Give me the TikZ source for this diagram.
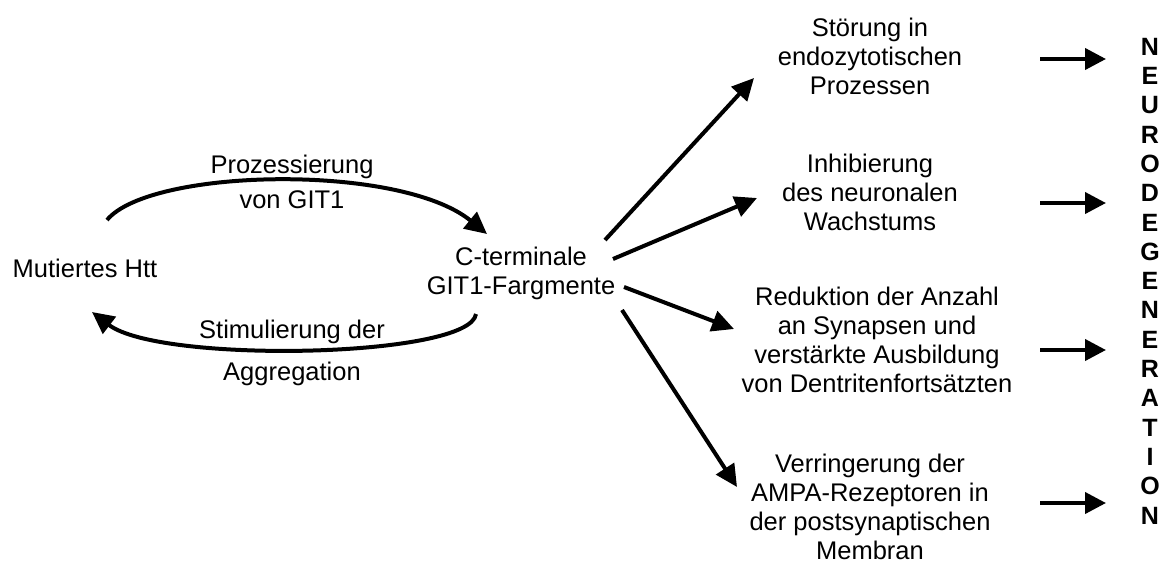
\documentclass[tikz,border=0pt]{standalone}
\usepackage{fontspec}
\setmainfont{Liberation Sans}
\usetikzlibrary{arrows.meta}
\begin{document}
\begin{tikzpicture}[x=1pt,y=-1pt,
  txt/.style={align=center,inner sep=0pt,font=\fontsize{25.5}{29}\selectfont},
  lbl/.style={anchor=base,inner sep=0pt,font=\fontsize{25.5}{29}\selectfont},
  bigarrow/.style={line width=4pt,-{Triangle[length=22pt,width=21pt]}},
  smallarrow/.style={line width=4pt,-{Triangle[length=21pt,width=21pt]}},
  letters/.style={align=center,inner sep=0pt,font=\fontsize{25}{29.3}\selectfont\bfseries}]
\useasboundingbox (0,0) rectangle (1162,563);
% left part
\node[lbl] (htt) at (85,277) {Mutiertes Htt};
\node[txt] (git) at (521,273) {C-terminale\\GIT1-Fargmente};
\node[lbl] (proz1) at (292,173) {Prozessierung};
\node[lbl] (proz2) at (292,208) {von GIT1};
\node[lbl] (stim1) at (292,338) {Stimulierung der};
\node[lbl] (stim2) at (292,380) {Aggregation};
\coordinate (topstart) at (107,220);
\coordinate (toptip) at (487,234);
\coordinate (botstart) at (476,314);
\coordinate (bottip) at (92,312);
\draw[bigarrow] (topstart) .. controls (150,168) and (400,163) .. (toptip);
\draw[bigarrow] (botstart) .. controls (470,358) and (160,364) .. (bottip);
% right texts
\node[txt] (a) at (870,56) {Störung in\\endozytotischen\\Prozessen};
\node[txt] (b) at (870,192) {Inhibierung\\des neuronalen\\Wachstums};
\node[txt] (c) at (877,340) {Reduktion der Anzahl\\an Synapsen und\\verstärkte Ausbildung\\von Dentritenfortsätzten};
\node[txt] (d) at (870,507) {Verringerung der\\AMPA-Rezeptoren in\\der postsynaptischen\\Membran};
% fan arrows
\coordinate (s1) at (605,240);
\coordinate (s2) at (613,259);
\coordinate (s3) at (624,287);
\coordinate (s4) at (622,310);
\coordinate (t1) at (754,78);
\coordinate (t2) at (757,198);
\coordinate (t3) at (734,329);
\coordinate (t4) at (737,487);
\draw[bigarrow] (s1) -- (t1);
\draw[bigarrow] (s2) -- (t2);
\draw[bigarrow] (s3) -- (t3);
\draw[bigarrow] (s4) -- (t4);
% neurodegeneration
\node[letters] (nd) at (1150,281) {N\\E\\U\\R\\O\\D\\E\\G\\E\\N\\E\\R\\A\\T\\I\\O\\N};
\coordinate (r1) at (1040,59);
\coordinate (r2) at (1040,203);
\coordinate (r3) at (1040,350);
\coordinate (r4) at (1040,503);
\coordinate (q1) at (1106,59);
\coordinate (q2) at (1106,203);
\coordinate (q3) at (1106,350);
\coordinate (q4) at (1106,503);
\draw[smallarrow] (r1) -- (q1);
\draw[smallarrow] (r2) -- (q2);
\draw[smallarrow] (r3) -- (q3);
\draw[smallarrow] (r4) -- (q4);
\end{tikzpicture}
\end{document}
